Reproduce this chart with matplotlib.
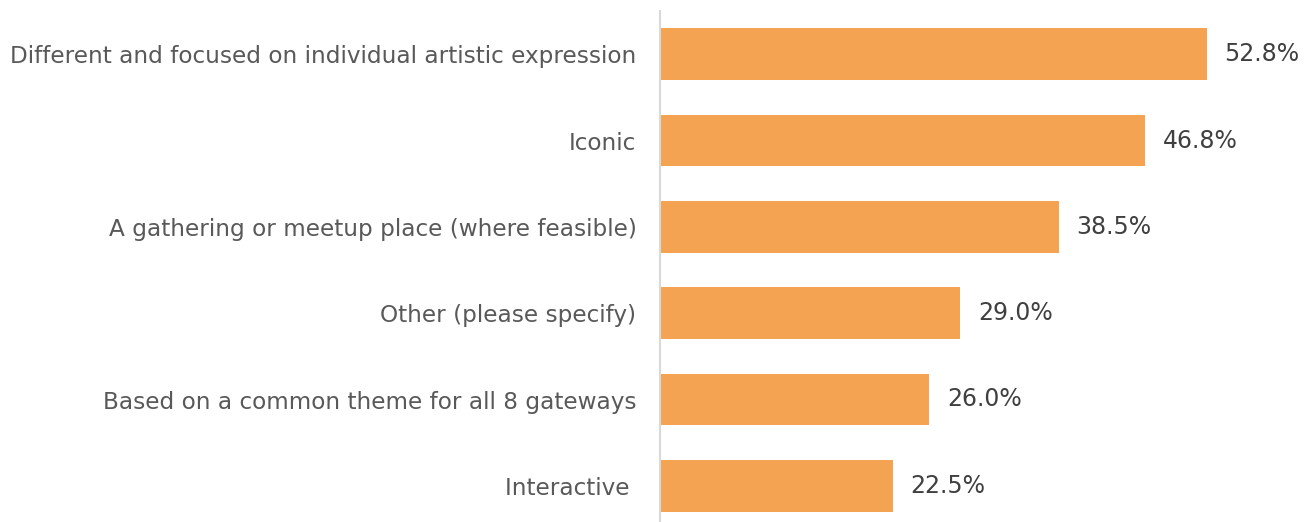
import matplotlib
matplotlib.use("Agg")
import matplotlib.pyplot as plt

categories = [
    "Different and focused on individual artistic expression",
    "Iconic",
    "A gathering or meetup place (where feasible)",
    "Other (please specify)",
    "Based on a common theme for all 8 gateways",
    "Interactive ",
]
values = [52.8, 46.8, 38.5, 29.0, 26.0, 22.5]
value_labels = ["52.8%", "46.8%", "38.5%", "29.0%", "26.0%", "22.5%"]

W, H = 1315, 522
fig = plt.figure(figsize=(W / 100, H / 100), dpi=100)
x0, x1 = 660, 1315
ytop, ybot = 11, 529
ax = fig.add_axes([x0 / W, (H - ybot) / H, (x1 - x0) / W, (ybot - ytop) / H])

ypos = list(range(len(categories)))
ax.barh(ypos, values, height=0.6, color="#F4A352", zorder=2)
ax.set_ylim(len(categories) - 0.5, -0.5)
ax.set_xlim(0, (x1 - x0) / 10.36)

for y, v, lab in zip(ypos, values, value_labels):
    ax.text(v + 1.7, y, lab, va="center", ha="left", fontsize=17,
            color="#404040", family="DejaVu Sans")

ax.set_yticks(ypos)
ax.set_yticklabels(categories, fontsize=16.7, color="#595959", family="DejaVu Sans")
ax.tick_params(axis="y", length=0, pad=17)
ax.set_xticks([])
for s in ["top", "right", "bottom"]:
    ax.spines[s].set_visible(False)
ax.spines["left"].set_color("#D9D9D9")
ax.spines["left"].set_linewidth(1.5)

fig.savefig("out.png", dpi=100)
